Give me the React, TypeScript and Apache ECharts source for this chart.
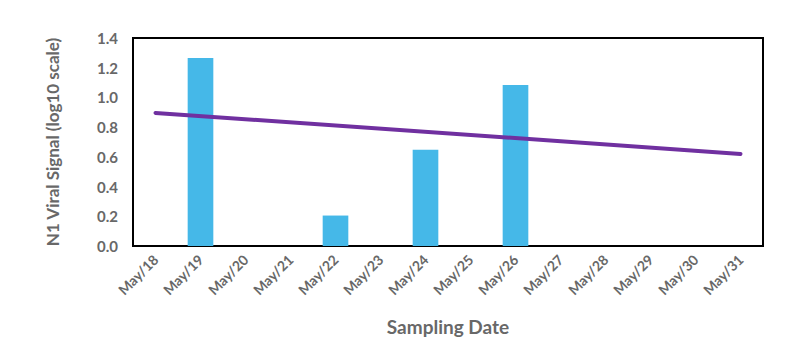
import React, { useEffect, useRef } from "react";
import * as echarts from "echarts";

const categories = [
  "May/18", "May/19", "May/20", "May/21", "May/22", "May/23", "May/24",
  "May/25", "May/26", "May/27", "May/28", "May/29", "May/30", "May/31",
];
const signalValues: (number | null)[] = [
  null, 1.265, null, null, 0.205, null, 0.648, null, 1.083, null, null, null, null, null,
];
const trendValues: (number | null)[] = [
  0.896, null, null, null, null, null, null, null, null, null, null, null, null, 0.62,
];
const yTicks = { min: 0, max: 1.4, interval: 0.2 };

const FONT = "Lato, 'Open Sans', sans-serif";
const GRAY = "#686868";

export default function App() {
  const ref = useRef<HTMLDivElement>(null);
  useEffect(() => {
    if (!ref.current) return;
    const chart = echarts.init(ref.current, undefined, { renderer: "svg" });
    chart.setOption({
      animation: false,
      backgroundColor: "#fff",
      grid: {
        left: 133,
        right: 37,
        top: 38,
        bottom: 117,
        show: true,
        borderColor: "#000",
        borderWidth: 2,
        backgroundColor: "transparent",
      },
      xAxis: {
        type: "category",
        data: categories,
        axisLine: { show: false },
        axisTick: { show: false },
        axisLabel: {
          rotate: 45,
          interval: 0,
          color: GRAY,
          fontFamily: FONT,
          fontWeight: "bold",
          fontSize: 14,
          margin: 11,
        },
        name: "Sampling Date",
        nameLocation: "middle",
        nameGap: 71,
        nameTextStyle: { color: GRAY, fontFamily: FONT, fontWeight: "bold", fontSize: 19 },
      },
      yAxis: {
        type: "value",
        min: yTicks.min,
        max: yTicks.max,
        interval: yTicks.interval,
        splitLine: { show: false },
        axisLine: { show: false },
        axisTick: { show: false },
        axisLabel: {
          color: GRAY,
          fontFamily: FONT,
          fontWeight: "bold",
          fontSize: 15,
          margin: 15,
          formatter: (v: number) => v.toFixed(1),
        },
        name: "N1 Viral Signal (log10 scale)",
        nameLocation: "middle",
        nameGap: 72,
        nameRotate: 90,
        nameTextStyle: { color: GRAY, fontFamily: FONT, fontWeight: "bold", fontSize: 17 },
      },
      series: [
        {
          type: "bar",
          data: signalValues,
          barWidth: "57%",
          itemStyle: { color: "#45B8E8" },
        },
        {
          type: "line",
          data: trendValues,
          connectNulls: true,
          symbol: "none",
          lineStyle: { color: "#7030A0", width: 4, cap: "round" },
          z: 3,
        },
      ],
    });
    return () => chart.dispose();
  }, []);
  return <div ref={ref} style={{ width: 800, height: 363, position: "absolute", left: 0, top: 0 }} />;
}
